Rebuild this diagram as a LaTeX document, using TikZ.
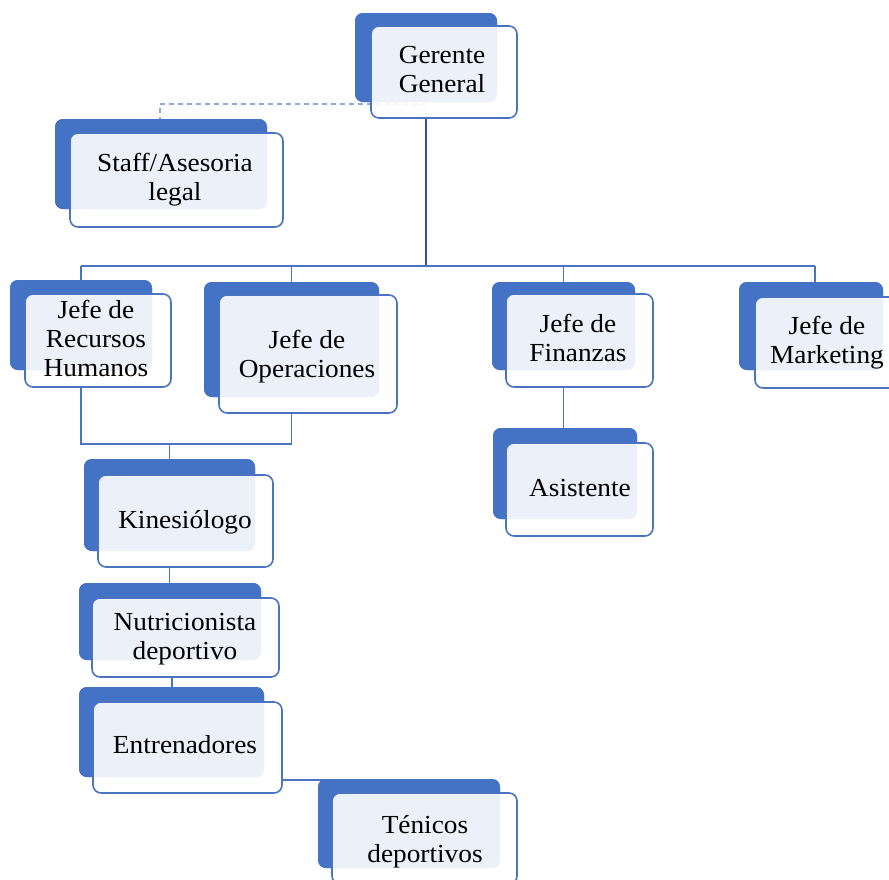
\documentclass[tikz,border=0pt]{standalone}
\usepackage{fontspec}
\setmainfont{Liberation Serif}[FakeStretch=1.05]
\definecolor{backblue}{HTML}{4472C4}
\definecolor{lineblue}{HTML}{4A74C0}
\definecolor{darkline}{HTML}{2F5597}
\definecolor{dashblue}{HTML}{8FAADC}
\begin{document}
\begin{tikzpicture}[x=1pt,y=-1pt,
  backbox/.style={draw=none,fill=backblue,rounded corners=8pt,inner sep=0pt,outer sep=0pt},
  frontbox/.style={draw=lineblue,line width=1.6pt,fill=white,fill opacity=0.9,draw opacity=1,rounded corners=8pt,inner sep=0pt,outer sep=0pt},
  label/.style={align=center,inner sep=0pt,font=\fontsize{26}{29}\selectfont,text=black},
  conn/.style={draw=lineblue,line width=1.6pt},
  mainconn/.style={draw=darkline,line width=2.4pt},
  dashconn/.style={draw=dashblue,line width=1.8pt,dash pattern=on 5pt off 4pt}]
\useasboundingbox (0,0) rectangle (889,879);
\clip (0,0) rectangle (889,879);

% helper coordinates
\coordinate (bus) at (0,266);
\coordinate (dashy) at (0,104);
\coordinate (bracket) at (0,444);
\coordinate (mk) at (815,0);

% back boxes (named first so connectors can use them)
\path
 node[backbox,minimum width=142pt,minimum height=89pt] (Gb) at (426,57.5) {}
 node[backbox,minimum width=212pt,minimum height=90pt] (Sb) at (161,164) {}
 node[backbox,minimum width=142pt,minimum height=90pt] (Rb) at (81,325) {}
 node[backbox,minimum width=175pt,minimum height=115pt] (Ob) at (291.5,339.5) {}
 node[backbox,minimum width=143pt,minimum height=88pt] (Fb) at (563.5,326) {}
 node[backbox,minimum width=144pt,minimum height=91pt] (Ab) at (565,473.5) {}
 node[backbox,minimum width=144pt,minimum height=88pt] (Mb) at (811,326) {}
 node[backbox,minimum width=171pt,minimum height=92pt] (Kb) at (169.5,505) {}
 node[backbox,minimum width=182pt,minimum height=77pt] (Nb) at (170,621.5) {}
 node[backbox,minimum width=185pt,minimum height=90pt] (Eb) at (171.5,732) {}
 node[backbox,minimum width=182pt,minimum height=89pt] (Tb) at (409,823.5) {};

% front boxes (positions only for now, drawn later)
\path
 node[minimum width=146pt,minimum height=92pt,inner sep=0pt,outer sep=0pt] (Gf) at (444,72) {}
 node[minimum width=213pt,minimum height=94pt,inner sep=0pt,outer sep=0pt] (Sf) at (176.5,180) {}
 node[minimum width=146pt,minimum height=93pt,inner sep=0pt,outer sep=0pt] (Rf) at (98,340.5) {}
 node[minimum width=178pt,minimum height=118pt,inner sep=0pt,outer sep=0pt] (Of) at (308,354) {}
 node[minimum width=147pt,minimum height=93pt,inner sep=0pt,outer sep=0pt] (Ff) at (579.5,340.5) {}
 node[minimum width=147pt,minimum height=93pt,inner sep=0pt,outer sep=0pt] (Af) at (579.5,489.5) {}
 node[minimum width=147pt,minimum height=91pt,inner sep=0pt,outer sep=0pt] (Mf) at (828.5,342.5) {}
 node[minimum width=175pt,minimum height=92pt,inner sep=0pt,outer sep=0pt] (Kf) at (185.5,521) {}
 node[minimum width=187pt,minimum height=79pt,inner sep=0pt,outer sep=0pt] (Nf) at (185.5,637.5) {}
 node[minimum width=189pt,minimum height=91pt,inner sep=0pt,outer sep=0pt] (Ef) at (187.5,747.5) {}
 node[minimum width=185pt,minimum height=91pt,inner sep=0pt,outer sep=0pt] (Tf) at (424.5,838.5) {};

% connectors (beneath the boxes)
\draw[dashconn] (Gb.center |- dashy) -- ([xshift=-1pt]Sb.north |- dashy) -- ([xshift=-1pt]Sb.north);
\draw[mainconn] (Gb.center |- Gf.south) -- (Gb.center |- bus);
\draw[conn] (Rb.north |- bus) -- (mk |- bus);
\draw[conn] (Rb.north |- bus) -- (Rb.north);
\draw[conn] (Ob.north |- bus) -- (Ob.north);
\draw[conn] (Fb.north |- bus) -- (Fb.north);
\draw[conn] (mk |- bus) -- (mk |- Mb.north);
\draw[conn] (Rb.north |- Rf.south) -- (Rb.north |- bracket) -- (Ob.north |- bracket) -- (Ob.north |- Of.south);
\draw[conn] (Kb.north |- bracket) -- (Kb.north);
\draw[conn] (Kb.north |- Kf.south) -- (Kb.north |- Nb.north);
\draw[conn] ([xshift=2pt]Nb.north |- Nf.south) -- ([xshift=2pt]Nb.north |- Eb.north);
\draw[conn] ([yshift=-1pt]Ef.east |- Tb.north) -- ([xshift=7pt,yshift=-1pt]Tb.north west);
\draw[conn] (Fb.north |- Ff.south) -- (Fb.north |- Ab.north);

% back boxes drawn
\foreach \n in {Gb,Sb,Rb,Ob,Fb,Ab,Mb,Kb,Nb,Eb,Tb}{
  \fill[backblue,rounded corners=8pt] (\n.north west) rectangle (\n.south east);
}
% front boxes drawn
\foreach \n in {Gf,Sf,Rf,Of,Ff,Af,Mf,Kf,Nf,Ef,Tf}{
  \draw[frontbox] (\n.north west) rectangle (\n.south east);
}

% labels
\node[label] (Gt) at (442,70) {Gerente\\General};
\node[label] (St) at (175,180) {Staff/Asesoria\\legal};
\node[label] (Rt) at (96,338) {Jefe de\\Recursos\\Humanos};
\node[label] (Ot) at (307,357) {Jefe de\\Operaciones};
\node[label] (Ft) at (578,338) {Jefe de\\Finanzas};
\node[label] (At) at (580,488) {Asistente};
\node[label] (Mt) at (827,343) {Jefe de\\Marketing};
\node[label] (Kt) at (185,522) {Kinesiólogo};
\node[label] (Nt) at (185,639) {Nutricionista\\deportivo};
\node[label] (Et) at (185,745) {Entrenadores};
\node[label] (Tt) at (425,842) {Ténicos\\deportivos};
\end{tikzpicture}
\end{document}
